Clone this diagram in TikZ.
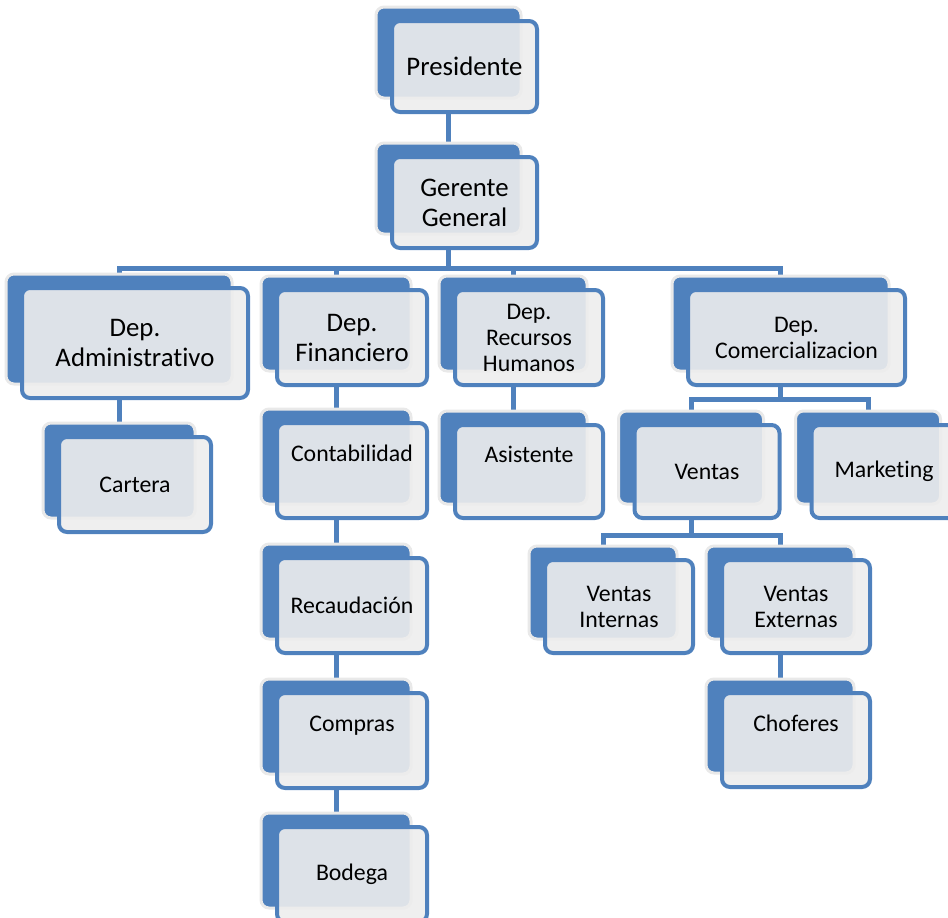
\documentclass[tikz,border=0pt]{standalone}
\usepackage{fontspec}
\setmainfont{Carlito}[Ligatures=NoCommon]
\usetikzlibrary{shadows,backgrounds}
\definecolor{orgblue}{RGB}{79,129,189}
\definecolor{frontgray}{RGB}{237,237,237}
\definecolor{glowgray}{RGB}{233,233,233}
\begin{document}
\begin{tikzpicture}[x=1pt,y=-1pt,
    unit/.style={draw=orgblue,line width=4pt,rounded corners=8pt,
        fill=frontgray,fill opacity=0.9,text opacity=1,align=center,inner sep=0pt,
        font=\fontsize{23.8}{26}\selectfont,
        copy shadow={shadow xshift=-16pt,shadow yshift=14pt,fill=orgblue,
            draw=glowgray,line width=3pt,fill opacity=1}},
    big/.style={font=\fontsize{26.8}{30}\selectfont},
    box/.style 2 args={minimum width=#1pt,minimum height=#2pt},
    link/.style={draw=orgblue,line width=5pt},
]
\useasboundingbox (0,0) rectangle (948,918);
% top
\node[unit,big,box={145}{91}] (pres) at (464.5,66.5) {Presidente};
\node[unit,big,box={145}{91}] (ger) at (464.5,202.5) {Gerente\\General};
% departments
\node[unit,big,box={226}{110}] (adm) at (135,343) {Dep.\\Administrativo};
\node[unit,big,box={150}{95}] (fin) at (352,337.5) {Dep.\\Financiero};
\node[unit,box={148}{95}] (rh) at (529,337.5) {Dep.\\Recursos\\Humanos};
\node[unit,box={217}{95}] (com) at (796.5,337.5) {Dep.\\Comercializacion};
% sections
\node[unit,box={152}{95}] (car) at (135,484.5) {Cartera};
\node[unit,box={150}{95}] (con) at (352,470.5) {Contabilidad\\\strut};
\node[unit,box={150}{95}] (rec) at (352,605.5) {Recaudación};
\node[unit,box={150}{95}] (cmp) at (352,740.5) {Compras\\\strut};
\node[unit,box={150}{95}] (bod) at (352,874.5) {Bodega};
\node[unit,box={148}{93}] (asi) at (529,471.5) {Asistente\\\strut};
\node[unit,box={145}{93}] (ven) at (707,471.5) {Ventas};
\node[unit,box={145}{93}] (mkt) at (884,471.5) {Marketing};
\node[unit,box={148}{93}] (vin) at (619,606.5) {Ventas\\Internas};
\node[unit,box={148}{93}] (vex) at (796,606.5) {Ventas\\Externas};
\node[unit,box={148}{94}] (cho) at (796,740) {Choferes\\\strut};
% connectors
\begin{scope}[on background layer]
\draw[link] ([xshift=-16pt]pres.south) -- ([xshift=-16pt]ger.north);
\draw[link] ([xshift=-16pt]ger.south) -- ++(0,18) coordinate (busdep);
\foreach \d in {adm,fin,rh,com}
    \draw[link] (busdep) -| ([xshift=-16pt]\d.north);
\draw[link] ([xshift=-16pt]com.south) -- ++(0,12) coordinate (buscom);
\foreach \d in {ven,mkt}
    \draw[link] (buscom) -| ([xshift=-16pt]\d.north);
\draw[link] ([xshift=-16pt]ven.south) -- ++(0,15) coordinate (busven);
\foreach \d in {vin,vex}
    \draw[link] (busven) -| ([xshift=-16pt]\d.north);
\foreach \a/\b in {adm/car,fin/con,con/rec,rec/cmp,cmp/bod,rh/asi,vex/cho}
    \draw[link] ([xshift=-16pt]\a.south) -- ([xshift=-16pt]\b.north);
\end{scope}
\end{tikzpicture}
\end{document}
